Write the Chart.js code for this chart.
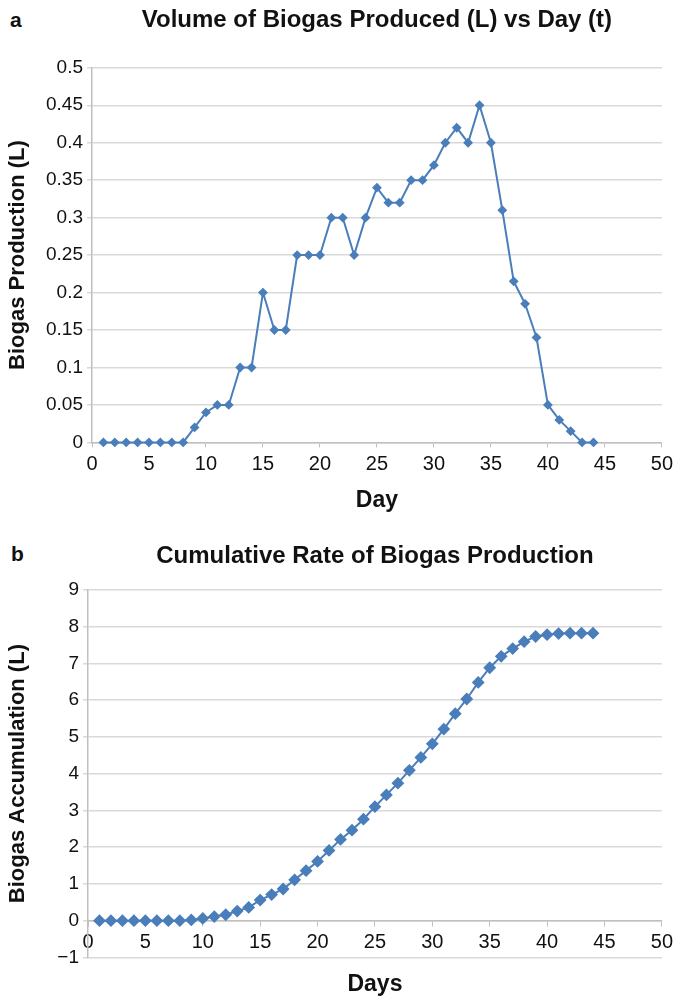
<!DOCTYPE html>
<html>
<head>
<meta charset="utf-8">
<script src="https://cdn.jsdelivr.net/npm/chart.js@4"></script>
<style>
  body { margin: 0; background: #fff; width: 678px; height: 998px; position: relative; overflow: hidden; }
  .box { position: absolute; left: 0; width: 678px; }
  .tag { position: absolute; font: bold 21px 'Liberation Sans', Arial, sans-serif; color: #111; }
</style>
</head>
<body>
<div class="tag" style="left:10px; top:8px;">a</div>
<div class="tag" style="left:11px; top:542px;">b</div>
<div class="box" style="top:0; height:515px;"><canvas id="dailyChart"></canvas></div>
<div class="box" style="top:515px; height:483px;"><canvas id="cumulativeChart"></canvas></div>
<script>
// 数据：天数和产气量
const days = [1, 2, 3, 4, 5, 6, 7, 8, 9, 10, 11, 12, 13, 14, 15, 16, 17, 18, 19, 20, 21, 22,
  23, 24, 25, 26, 27, 28, 29, 30, 31, 32, 33, 34, 35, 36, 37, 38, 39, 40, 41, 42, 43, 44];

const dailyVolume = [0, 0, 0, 0, 0, 0, 0, 0, 0.02, 0.04, 0.05, 0.05, 0.1, 0.1, 0.2, 0.15, 0.15,
  0.25, 0.25, 0.25, 0.3, 0.3, 0.25, 0.3, 0.34, 0.32, 0.32, 0.35, 0.35, 0.37, 0.4, 0.42, 0.4,
  0.45, 0.4, 0.31, 0.215, 0.185, 0.14, 0.05, 0.03, 0.015, 0, 0];

const cumulativeVolume = [0, 0, 0, 0, 0, 0, 0, 0, 0.02, 0.06, 0.11, 0.16, 0.26, 0.36, 0.56, 0.71,
  0.86, 1.11, 1.36, 1.61, 1.91, 2.21, 2.46, 2.76, 3.1, 3.42, 3.74, 4.09, 4.44, 4.81, 5.21, 5.63,
  6.03, 6.48, 6.88, 7.19, 7.4, 7.59, 7.73, 7.78, 7.81, 7.82, 7.82, 7.82];

const FONT = "'Liberation Sans', Arial, sans-serif";
const BLUE = '#4a7ebb';
const GRID = '#d9d9d9';
const AXIS = '#bfbfbf';

function toPoints(values) {
  return days.map((d, i) => ({ x: d, y: values[i] }));
}

// 第一张图：每日产气量
new Chart(document.getElementById('dailyChart'), {
  type: 'line',
  data: {
    datasets: [{
      data: toPoints(dailyVolume),
      borderColor: BLUE,
      backgroundColor: BLUE,
      borderWidth: 2,
      pointStyle: 'rectRot',
      pointRadius: 3.5,
      pointHoverRadius: 3.5,
      clip: false,
    }],
  },
  options: {
    responsive: true,
    maintainAspectRatio: false,
    animation: false,
    layout: { padding: { left: 0, right: 13, top: 6, bottom: 1 } },
    plugins: {
      legend: { display: false },
      tooltip: { enabled: false },
      title: {
        display: true,
        fullSize: false,
        text: 'Volume of Biogas Produced (L) vs Day (t)',
        color: '#111',
        font: { family: FONT, size: 24, weight: 'bold' },
        padding: { top: 0, bottom: 33 },
      },
    },
    scales: {
      x: {
        type: 'linear',
        min: 0, max: 50,
        ticks: { stepSize: 5, color: '#111', padding: 5, font: { family: FONT, size: 20 } },
        grid: { drawOnChartArea: false, drawTicks: true, tickLength: 5, color: AXIS },
        border: { color: AXIS, width: 1.5 },
        title: { display: true, text: 'Day', color: '#111', font: { family: FONT, size: 23, weight: 'bold' }, padding: { top: 5, bottom: 0 } },
      },
      y: {
        min: 0, max: 0.5,
        afterFit: scale => { scale.width = 92; },
        ticks: {
          stepSize: 0.05, color: '#111', padding: 4, font: { family: FONT, size: 19 },
          callback: v => String(+v.toFixed(2)),
        },
        grid: { color: GRID, lineWidth: 1.5, tickLength: 5 },
        border: { color: AXIS, width: 1.5 },
        title: { display: true, text: 'Biogas Production (L)', color: '#111', font: { family: FONT, size: 22, weight: 'bold' }, padding: { top: 5, bottom: 0 } },
      },
    },
  },
});

// 第二张图：累计产气量
new Chart(document.getElementById('cumulativeChart'), {
  type: 'line',
  data: {
    datasets: [{
      data: toPoints(cumulativeVolume),
      borderColor: BLUE,
      backgroundColor: BLUE,
      borderWidth: 2,
      pointStyle: 'rectRot',
      pointRadius: 5,
      pointHoverRadius: 5,
      clip: false,
    }],
  },
  options: {
    responsive: true,
    maintainAspectRatio: false,
    animation: false,
    layout: { padding: { left: 0, right: 12, top: 27, bottom: 0 } },
    plugins: {
      legend: { display: false },
      tooltip: { enabled: false },
      title: {
        display: true,
        fullSize: false,
        text: 'Cumulative Rate of Biogas Production',
        color: '#111',
        font: { family: FONT, size: 24, weight: 'bold' },
        padding: { top: 0, bottom: 19 },
      },
      subtitle: {
        display: true,
        fullSize: false,
        position: 'bottom',
        text: 'Days',
        color: '#111',
        font: { family: FONT, size: 23, weight: 'bold' },
        padding: { top: 13, bottom: 0 },
      },
    },
    scales: {
      x: {
        type: 'linear',
        position: { y: 0 },
        min: 0, max: 50,
        ticks: { stepSize: 5, color: '#111', padding: 5, font: { family: FONT, size: 20 } },
        grid: { drawOnChartArea: false, drawTicks: true, tickLength: 5, color: AXIS },
        border: { color: AXIS, width: 1.5 },
      },
      y: {
        min: -1, max: 9,
        afterFit: scale => { scale.width = 88; },
        ticks: {
          stepSize: 1, color: '#111', padding: 4, font: { family: FONT, size: 19 },
          callback: v => String(v).replace('-', '\u2212'),
        },
        grid: { color: GRID, lineWidth: 1.5, tickLength: 5 },
        border: { color: AXIS, width: 1.5 },
        title: { display: true, text: 'Biogas Accumulation (L)', color: '#111', font: { family: FONT, size: 22, weight: 'bold' }, padding: { top: 5, bottom: 0 } },
      },
    },
  },
});
</script>
</body>
</html>
